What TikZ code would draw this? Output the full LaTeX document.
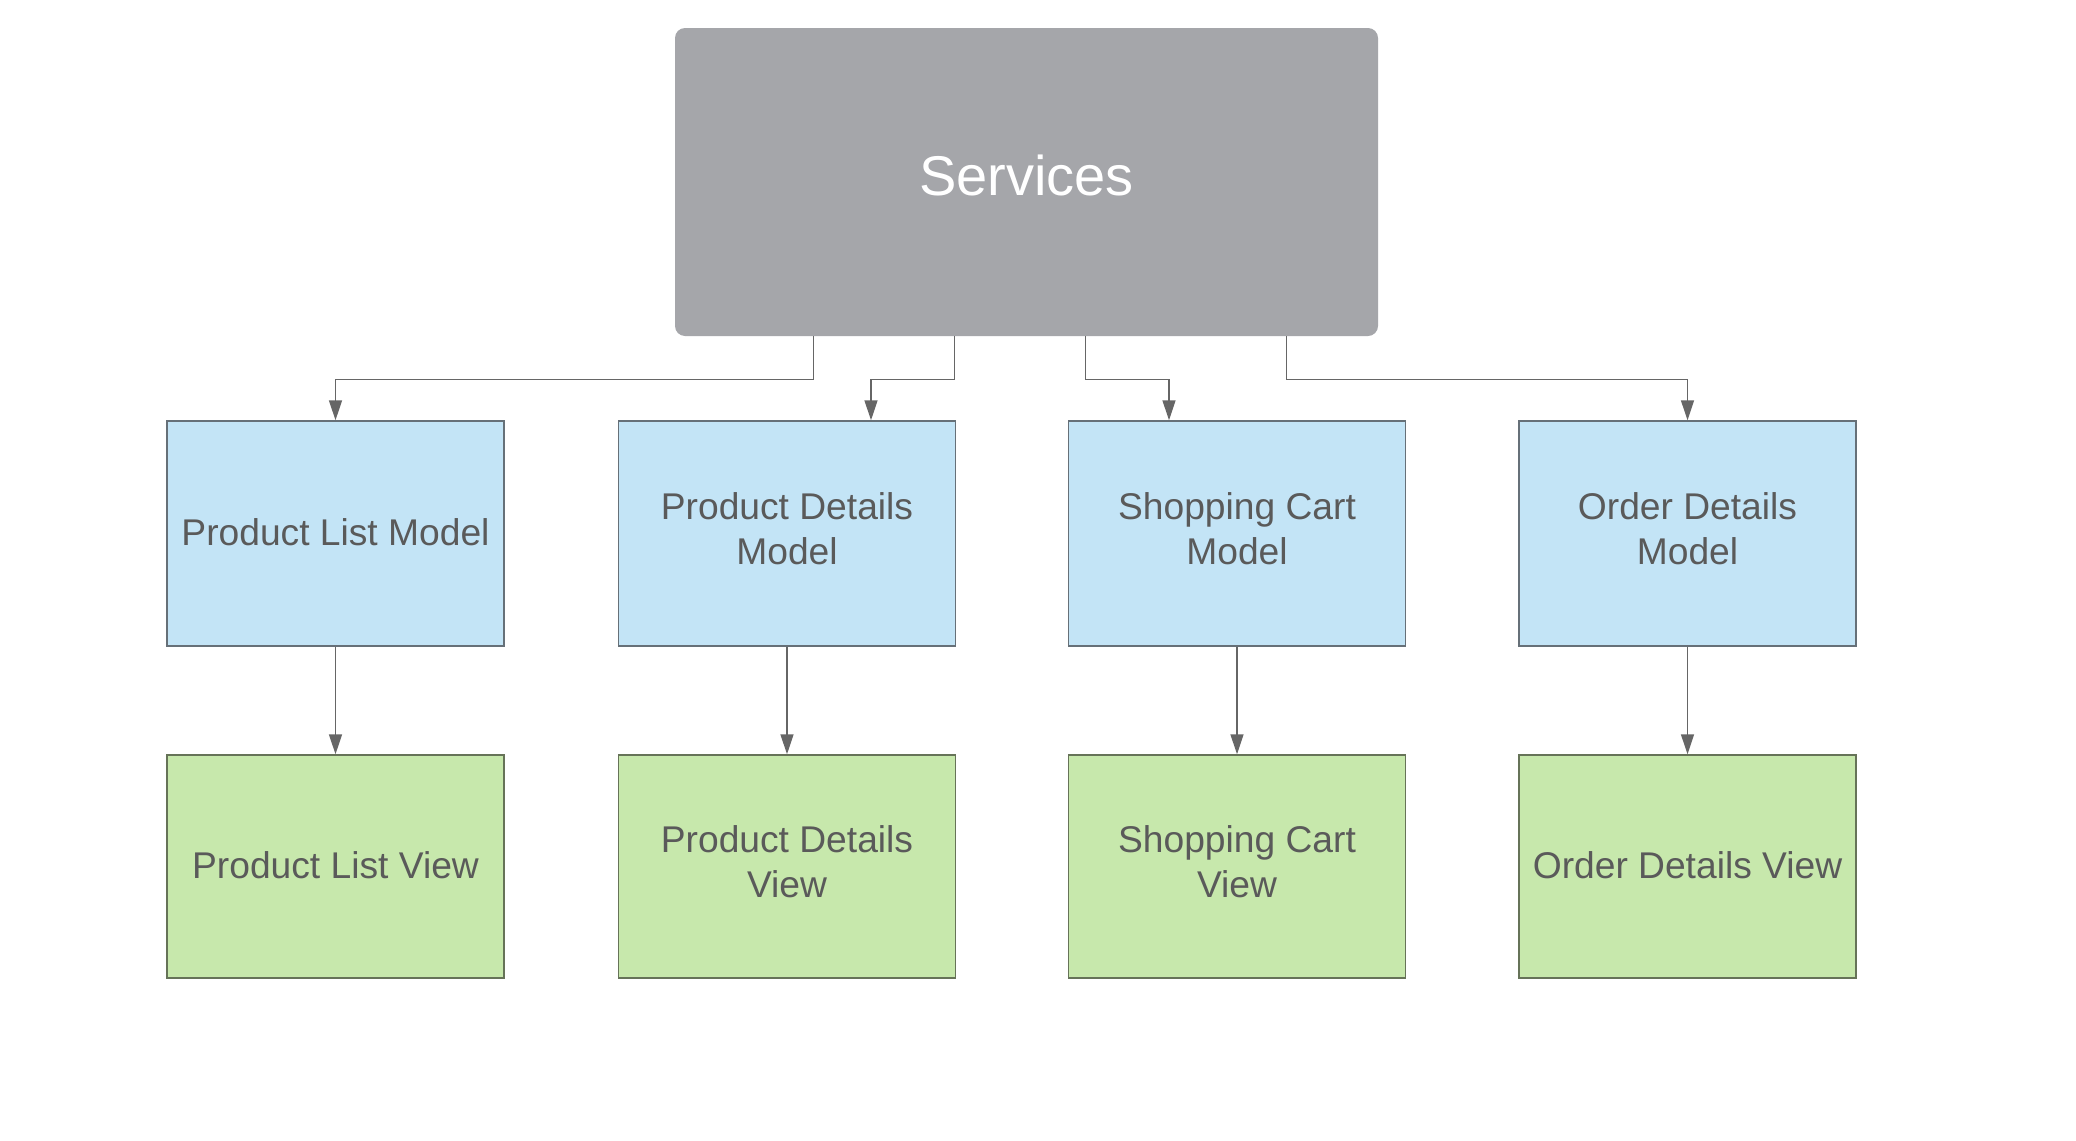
\documentclass[tikz,border=0pt]{standalone}
\usepackage{fontspec}
\setmainfont{Liberation Sans}
\usetikzlibrary{arrows.meta,calc}
\definecolor{svcfill}{HTML}{A5A6AA}
\definecolor{modfill}{HTML}{C3E4F6}
\definecolor{modline}{HTML}{667078}
\definecolor{viewfill}{HTML}{C7E8AC}
\definecolor{viewline}{HTML}{667358}
\definecolor{txt}{HTML}{5A5A5A}
\definecolor{conn}{HTML}{666666}
\tikzset{
  svcbox/.style={fill=svcfill, draw=none, rounded corners=5pt, minimum width=351.5pt, minimum height=154pt, text=white, font=\fontsize{28}{33}\selectfont, inner sep=0pt, text depth=6.6pt},
  modbox/.style={fill=modfill, draw=modline, line width=0.75pt, minimum width=168.5pt, minimum height=112.5pt, text=txt, font=\fontsize{18.6}{22.5}\selectfont, align=center, inner sep=0pt},
  viewbox/.style={fill=viewfill, draw=viewline, line width=0.75pt, minimum width=168.5pt, minimum height=111.5pt, text=txt, font=\fontsize{18.6}{22.5}\selectfont, align=center, inner sep=0pt},
  oneline/.style={text depth=1.3pt},
  twoline/.style={text depth=5pt},
  arr/.style={draw=conn, line width=0.75pt, -{Triangle[length=10pt,width=6.5pt]}, color=conn},
}
\begin{document}
\begin{tikzpicture}[x=0.5pt,y=-0.5pt]
\useasboundingbox[fill=white] (0,0) rectangle (2076,1140);
\node[svcbox] (svc) at (1026.5,182) {Services};
\node[modbox,oneline] (m1) at (335.5,533.5) {Product List Model};
\node[modbox,twoline] (m2) at (787,533.5) {Product Details\\Model};
\node[modbox,twoline] (m3) at (1237,533.5) {Shopping Cart\\Model};
\node[modbox,twoline] (m4) at (1687.5,533.5) {Order Details\\Model};
\node[viewbox,oneline] (v1) at (335.5,866.5) {Product List View};
\node[viewbox,twoline] (v2) at (787,866.5) {Product Details\\View};
\node[viewbox,twoline] (v3) at (1237,866.5) {Shopping Cart\\View};
\node[viewbox,oneline] (v4) at (1687.5,866.5) {Order Details View};
\draw[arr] ([xshift=69.5pt]svc.south west) -- ++(0,43) -| (m1.north);
\draw[arr] ([xshift=140pt]svc.south west) -- ++(0,43) -| ([xshift=42pt]m2.north);
\draw[arr] ([xshift=205.5pt]svc.south west) -- ++(0,43) -| ([xshift=-34pt]m3.north);
\draw[arr] ([xshift=306pt]svc.south west) -- ++(0,43) -| (m4.north);
\draw[arr] (m1.south) -- (v1.north);
\draw[arr] (m2.south) -- (v2.north);
\draw[arr] (m3.south) -- (v3.north);
\draw[arr] (m4.south) -- (v4.north);
\end{tikzpicture}
\end{document}
